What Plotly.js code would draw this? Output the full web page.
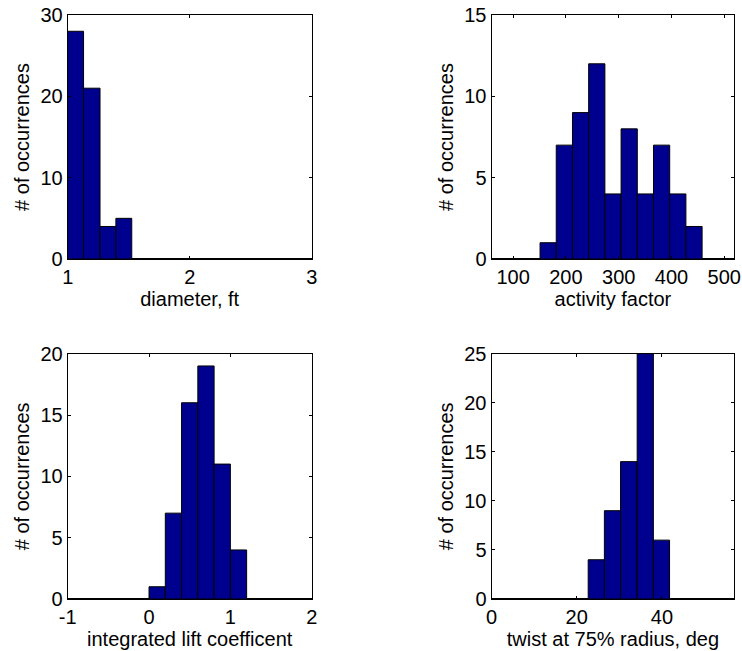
<!DOCTYPE html>
<html>
<head>
<meta charset="utf-8">
<script src="https://cdn.plot.ly/plotly-3.0.1.min.js"></script>
<style>html,body{margin:0;padding:0;background:#fff;}#chart{width:742px;height:651px;}</style>
</head>
<body>
<div id="chart"></div>
<script>
// Bin edges and counts
const diameterEdges = [1.0, 1.13, 1.265, 1.395, 1.525];
const diameterCounts = [28, 21, 4, 5];

const activityEdges = [151, 181.7, 212.4, 243.1, 273.8, 304.5, 335.2, 365.9, 396.6, 427.3, 458];
const activityCounts = [1, 7, 9, 12, 4, 8, 4, 7, 4, 2];

const liftEdges = [0, 0.2, 0.4, 0.6, 0.8, 1.0, 1.2];
const liftCounts = [1, 7, 16, 19, 11, 4];

const twistEdges = [22.7, 26.5, 30.3, 34.2, 38.0, 41.8];
const twistCounts = [4, 9, 14, 25, 6];

// Tick labels for the lift-coefficient axis (plain hyphen minus as in the reference)
const liftTickVals = [-1, 0, 1, 2];
const liftTickText = ["-1", "0", "1", "2"];

const xTitles = ["diameter, ft", "activity factor", "integrated lift coefficent", "twist at 75% radius, deg"];
const yTitle = "# of occurrences";

function centers(e){ const c=[]; for(let i=0;i<e.length-1;i++) c.push((e[i]+e[i+1])/2); return c; }
function widths(e){ const w=[]; for(let i=0;i<e.length-1;i++) w.push(e[i+1]-e[i]); return w; }

const barColor = '#00008F';
function barTrace(edges, counts, xa, ya){
  return {type:'bar', x:centers(edges), y:counts, width:widths(edges), xaxis:xa, yaxis:ya,
    marker:{color:barColor, line:{color:'#000', width:1}}, hoverinfo:'x+y', showlegend:false};
}

const data = [
  barTrace(diameterEdges, diameterCounts, 'x', 'y'),
  barTrace(activityEdges, activityCounts, 'x2', 'y2'),
  barTrace(liftEdges, liftCounts, 'x3', 'y3'),
  barTrace(twistEdges, twistCounts, 'x4', 'y4')
];

const font = {family:'Liberation Sans, Arial, sans-serif', size:20, color:'#000'};
function xax(dom, range, dtick, title, anchor){
  return {domain:dom, range:range, dtick:dtick, tick0:0, anchor:anchor, showline:true, linecolor:'#000', linewidth:1,
    mirror:'ticks', ticks:'inside', ticklen:3, tickcolor:'#000', showgrid:false, zeroline:false,
    tickfont:font, title:{text:title, font:font, standoff:3}, fixedrange:true};
}
function yax(dom, range, dtick, anchor){
  return {domain:dom, range:range, dtick:dtick, tick0:0, anchor:anchor, showline:true, linecolor:'#000', linewidth:1,
    mirror:'ticks', ticks:'inside', ticklen:3, tickcolor:'#000', showgrid:false,
    zeroline:true, zerolinecolor:'#000', zerolinewidth:2,
    tickfont:font, title:{text:yTitle, font:font, standoff:5}, fixedrange:true};
}

const xL = [67.7/742, 311.7/742], xR = [491.5/742, 734.3/742];
const yT = [1-259/651, 1-15/651], yB = [1-599/651, 1-353.7/651];

const x3 = xax(xL, [-1,2], 1, xTitles[2], 'y3');
x3.tickmode = 'array';
x3.tickvals = liftTickVals;
x3.ticktext = liftTickText;

const layout = {
  width:742, height:651, margin:{l:0,r:0,t:0,b:0}, paper_bgcolor:'#fff', plot_bgcolor:'#fff',
  font:font, bargap:0, showlegend:false,
  xaxis: xax(xL, [1,3], 1, xTitles[0], 'y'),
  yaxis: yax(yT, [0,30], 10, 'x'),
  xaxis2: xax(xR, [59,519], 100, xTitles[1], 'y2'),
  yaxis2: yax(yT, [0,15], 5, 'x2'),
  xaxis3: x3,
  yaxis3: yax(yB, [0,20], 5, 'x3'),
  xaxis4: xax(xR, [0,57], 20, xTitles[3], 'y4'),
  yaxis4: yax(yB, [0,25], 5, 'x4')
};

Plotly.newPlot('chart', data, layout, {displayModeBar:false, staticPlot:true});
</script>
</body>
</html>
